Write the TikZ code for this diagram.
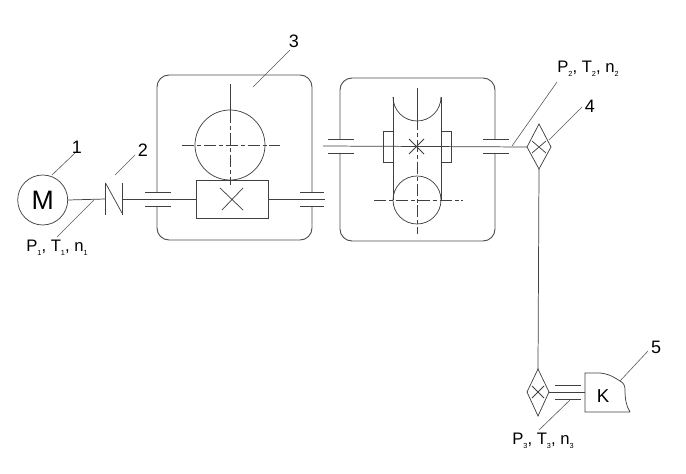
\documentclass[tikz,border=0pt]{standalone}
\usepackage{fontspec}
\setmainfont{Liberation Sans}
\newcommand{\lowidx}[1]{\raisebox{-3pt}{\fontsize{5.5}{7}\selectfont #1}}
\tikzset{
  x=0.75pt,y=-0.75pt,
  ln/.style={draw=black!75,line width=0.55pt},
  wall/.style={draw=black!70,line width=0.7pt},
  lead/.style={draw=black!65,line width=0.45pt},
  axisdash/.style={draw=black!75,line width=0.55pt,dash pattern=on 9pt off 2.2pt on 3pt off 2.2pt},
  num/.style={inner sep=0pt,font=\fontsize{13.5}{14}\selectfont},
  lbl/.style={inner sep=0pt,font=\fontsize{12.5}{14}\selectfont},
  pt/.style={inner sep=0pt,minimum size=0pt}
}
\begin{document}
\begin{tikzpicture}
\useasboundingbox (0,0) rectangle (686,474);
% motor
\node[circle,ln,minimum size=37.5pt,inner sep=0pt,font=\fontsize{20}{20}\selectfont] (motor) at (42.7,200) {M};
\coordinate (cl) at (105.5,199);
\coordinate (cr) at (122,199);
\draw[ln] (motor.east) -- (cl);
\draw[ln] (105.5,183) -- (105.5,215);
\draw[ln] (122,183) -- (122,215);
\draw[ln] (105.5,183) -- (122,213);
% gearbox 3
\draw[wall,rounded corners=9pt] (157,192) -- (157,75) -- (312,75) -- (312,192);
\draw[wall,rounded corners=9pt] (157,206) -- (157,240) -- (312,240) -- (312,206);
\draw[ln] (145,192) -- (171,192) (145,206) -- (171,206);
\draw[ln] (300,192) -- (324,192) (300,206) -- (324,206);
\node[draw=black!75,line width=0.55pt,minimum width=54.4pt,minimum height=28.5pt,inner sep=0pt] (worm) at (232.5,199) {};
\draw[ln] (cr) -- (worm.west);
\draw[ln] (worm.east) -- (325,199);
\draw[ln] (220,188) -- (243,210) (243,188) -- (222,210);
\node[circle,ln,minimum size=52.5pt,inner sep=0pt] (wheelA) at (230,145) {};
\draw[ln] (230,84) -- (230,111);
\draw[axisdash] (230,111) -- (230,185);
\draw[axisdash] (182,145) -- (280,145);
% gearbox 2
\draw[wall,rounded corners=9pt] (340,139) -- (340,78) -- (495,78) -- (495,139);
\draw[wall,rounded corners=9pt] (340,153) -- (340,241) -- (495,241) -- (495,153);
\draw[ln] (328,139) -- (354,139) (328,153) -- (354,153);
\draw[ln] (483,139) -- (509,139) (483,153) -- (509,153);
\draw[ln] (393,97) -- (393,200) (441,97) -- (441,200);
\draw[ln] (393,97) arc[start angle=180,end angle=360,radius=24,x radius=24,y radius=-24];
\draw[ln] (383,131) rectangle (393,162);
\draw[ln] (441,131) rectangle (451,162);
\node[circle,ln,minimum size=36pt,inner sep=0pt] (wheelB) at (417,200) {};
\draw[ln] (409,139) -- (424,154) (424,139) -- (409,154);
\draw[ln] (417,88) -- (417,118);
\draw[axisdash] (417,118) -- (417,234);
\draw[axisdash] (374,200) -- (463,200);
% coupling 4
\coordinate (d1t) at (539,124); \coordinate (d1b) at (539,169);
\coordinate (d1l) at (527,147); \coordinate (d1r) at (551,147);
\draw[ln] (d1t) -- (d1r) -- (d1b) -- (d1l) -- cycle;
\draw[ln] (532,141) -- (546,153) (546,141) -- (532,153);
\draw[ln] (323,146) -- (d1l);
% lower coupling
\coordinate (d2t) at (538,369); \coordinate (d2b) at (538,416);
\coordinate (d2l) at (527,392); \coordinate (d2r) at (549,392);
\draw[ln] (d2t) -- (d2r) -- (d2b) -- (d2l) -- cycle;
\draw[ln] (532,386) -- (544,398) (544,386) -- (532,398);
\draw[ln] (d1b) -- (d2t);
% machine 5
\coordinate (k) at (585,392);
\draw[ln] (d2r) -- (k);
\draw[ln] (555,385) -- (581,385) (555,399) -- (581,399);
\draw[ln] (630,412) -- (585,412) -- (585,373) -- (600,373) .. controls (610,374) and (615,378) .. (620,381) .. controls (624,383) and (625,386) .. (625,390) .. controls (625,398) and (626,406) .. (630,412);
\node[inner sep=0pt,font=\fontsize{14}{16}\selectfont] (K) at (603,396) {K};
% labels
\node[num] (n1) at (77,147) {1};
\node[num] (n2) at (143,150) {2};
\node[num] (n3) at (294,41) {3};
\node[num] (n4) at (590,106) {4};
\node[num] (n5) at (656,347) {5};
\node[lbl] (p1) at (57,248) {P\lowidx{1}, T\lowidx{1}, n\lowidx{1}};
\node[lbl] (p2) at (588,69) {P\lowidx{2}, T\lowidx{2}, n\lowidx{2}};
\node[lbl] (p3) at (543,441) {P\lowidx{3}, T\lowidx{3}, n\lowidx{3}};
% leaders
\draw[lead] (52,175) -- (75,153);
\draw[lead] (115,175) -- (135,155);
\draw[lead] (253,87) -- (290,50);
\draw[lead] (549,140) -- (582,107);
\draw[lead] (620,381) -- (648,351);
\draw[lead] (94,200) -- (57,237);
\draw[lead] (512,146) -- (557,82);
\draw[lead] (570,400) -- (539,430);
\end{tikzpicture}
\end{document}
